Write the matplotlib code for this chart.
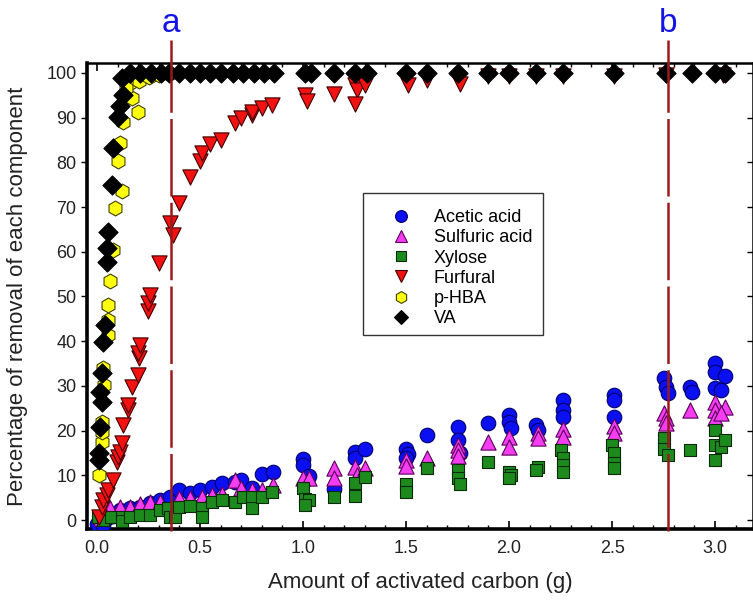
import matplotlib
matplotlib.use("Agg")
import matplotlib.pyplot as plt
from matplotlib.patches import Rectangle
from matplotlib.lines import Line2D

plt.rcParams['font.family'] = ['Liberation Sans', 'DejaVu Sans']

# ---- data: removal (%) vs. amount of activated carbon (g) ----
acetic_x = [0.00, 0.02, 0.03, 0.05, 0.08, 0.11, 0.16, 0.21, 0.257, 0.306, 0.354, 0.40, 0.45,
            0.50, 0.556, 0.605, 0.67, 0.70, 0.75, 0.80, 0.853, 1.00, 1.00, 1.03, 1.15, 1.25,
            1.25, 1.30, 1.50, 1.51, 1.50, 1.60, 1.75, 1.75, 1.76, 1.90, 2.00, 2.00, 2.01,
            2.13, 2.14, 2.26, 2.26, 2.26, 2.51, 2.51, 2.51, 2.75, 2.76, 2.77, 2.88, 2.89,
            3.00, 3.00, 3.05, 3.00, 3.03]
acetic_y = [-0.8, 0.0, -1.0, 0.5, 1.0, 2.2, 2.6, 3.0, 3.8, 4.5, 5.2, 6.7, 6.0,
            6.7, 7.5, 8.2, 8.6, 8.9, 7.1, 10.4, 10.8, 13.6, 12.3, 9.8, 6.9, 15.3,
            13.8, 15.8, 15.8, 14.8, 13.8, 19.0, 20.9, 17.9, 14.9, 21.8, 23.5, 22.0, 20.5,
            21.3, 20.1, 26.8, 24.6, 23.1, 28.0, 26.8, 23.1, 31.7, 29.8, 28.3, 29.8, 28.7,
            35.1, 33.2, 32.1, 29.5, 29.1]

sulfuric_x = [0.02, 0.04, 0.063, 0.11, 0.16, 0.21, 0.257, 0.306, 0.40, 0.45, 0.51, 0.556,
              0.605, 0.67, 0.70, 0.75, 0.80, 0.853, 1.00, 1.03, 1.15, 1.15, 1.25, 1.26,
              1.30, 1.50, 1.50, 1.60, 1.75, 1.75, 1.75, 1.90, 2.00, 2.00, 2.14, 2.14,
              2.26, 2.26, 2.51, 2.51, 2.75, 2.76, 2.76, 2.88, 3.00, 3.00, 3.05, 3.00, 3.03]
sulfuric_y = [0.5, 1.5, 2.6, 3.0, 3.0, 3.5, 4.1, 4.0, 4.9, 4.9, 5.2, 5.6,
              5.8, 8.9, 7.1, 6.7, 6.7, 7.8, 9.3, 9.3, 11.6, 9.3, 11.9, 10.1,
              11.6, 13.4, 12.1, 13.9, 16.8, 15.7, 14.3, 17.5, 18.5, 16.3, 19.4, 18.3,
              20.3, 18.6, 21.0, 19.4, 24.0, 22.8, 21.6, 24.5, 26.5, 24.6, 25.3, 22.8, 23.9]

xylose_x = [0.006, 0.03, 0.07, 0.12, 0.12, 0.16, 0.21, 0.257, 0.306, 0.346, 0.354, 0.38,
            0.40, 0.45, 0.51, 0.51, 0.556, 0.605, 0.67, 0.71, 0.75, 0.75, 0.80, 0.85,
            1.00, 1.01, 1.03, 1.01, 1.15, 1.25, 1.25, 1.30, 1.50, 1.50, 1.60, 1.75, 1.75,
            1.76, 1.90, 2.00, 2.01, 2.00, 2.14, 2.13, 2.25, 2.26, 2.26, 2.26, 2.50, 2.51,
            2.51, 2.51, 2.75, 2.75, 2.77, 2.88, 3.00, 3.00, 3.03, 3.05, 3.00]
xylose_y = [0.7, 0.0, 0.7, 0.7, -0.3, 0.7, 1.1, 1.1, 2.2, 2.6, 0.7, 0.7,
            3.0, 3.1, 2.6, 0.7, 4.1, 4.5, 4.1, 5.2, 5.2, 2.6, 5.2, 6.3,
            7.1, 4.8, 4.5, 3.4, 5.2, 8.2, 5.4, 9.6, 8.1, 6.3, 11.6, 11.3, 9.3,
            8.1, 13.0, 10.8, 10.1, 9.3, 11.9, 11.2, 15.7, 13.8, 12.3, 10.8, 16.8, 14.9,
            12.7, 11.6, 18.3, 16.0, 14.5, 15.7, 20.1, 16.8, 16.4, 17.9, 13.4]

furfural_x = [0.011, 0.023, 0.031, 0.047, 0.055, 0.076, 0.096, 0.103, 0.112, 0.12, 0.125,
              0.152, 0.152, 0.168, 0.20, 0.205, 0.20, 0.209, 0.249, 0.249, 0.257, 0.30,
              0.354, 0.37, 0.40, 0.45, 0.50, 0.51, 0.55, 0.60, 0.67, 0.70, 0.75, 0.75,
              0.80, 0.848, 1.01, 1.02, 1.15, 1.25, 1.26, 1.25, 1.30, 1.50, 1.51, 1.60,
              1.75, 1.76, 1.90, 2.00, 2.13, 2.26, 2.51, 2.76, 3.04]
furfural_y = [0.7, 3.0, 4.5, 5.6, 6.7, 8.9, 13.0, 14.2, 15.3, 17.3, 21.3,
              24.6, 25.7, 29.8, 32.4, 36.2, 37.3, 39.1, 46.8, 48.5, 50.3, 57.4,
              66.4, 63.8, 70.8, 76.8, 80.2, 82.0, 84.1, 85.0, 88.7, 89.8, 90.6, 91.3,
              92.1, 92.8, 95.1, 93.6, 95.3, 97.2, 96.1, 93.1, 97.3, 98.6, 97.3, 98.5,
              98.6, 97.5, 99.2, 99.3, 99.3, 99.4, 99.4, 99.5, 99.5]

phba_x = [0.011, 0.023, 0.023, 0.023, 0.031, 0.034, 0.055, 0.055, 0.055, 0.063, 0.08,
          0.087, 0.104, 0.112, 0.12, 0.128, 0.168, 0.20, 0.16, 0.14, 0.205, 0.25, 0.30, 0.35]
phba_y = [10.1, 17.5, 19.8, 22.0, 33.9, 30.2, 41.4, 44.7, 48.1, 53.5, 60.4,
          69.7, 80.2, 84.3, 73.6, 89.1, 94.3, 91.2, 97.7, 96.5, 98.1, 99.0, 99.5, 99.8]

va_x = [0.011, 0.011, 0.015, 0.015, 0.023, 0.023, 0.031, 0.039, 0.047, 0.047, 0.055,
        0.071, 0.08, 0.104, 0.11, 0.128, 0.12, 0.16, 0.21, 0.26, 0.31, 0.35, 0.40, 0.45,
        0.50, 0.55, 0.60, 0.66, 0.71, 0.76, 0.81, 0.86, 1.01, 1.04, 1.15, 1.25, 1.31,
        1.50, 1.60, 1.75, 1.90, 2.00, 2.13, 2.26, 2.51, 2.76, 2.89, 3.00, 3.05]
va_y = [15.0, 13.4, 20.9, 28.7, 26.5, 32.8, 39.9, 43.6, 57.8, 60.8, 64.5,
        74.9, 83.1, 90.2, 92.5, 95.1, 98.8, 99.9, 99.9, 99.9, 99.9, 99.9, 99.9, 99.9,
        99.9, 99.9, 99.9, 99.9, 99.9, 99.9, 99.9, 99.9, 99.9, 99.9, 99.9, 99.9, 99.9,
        99.9, 99.9, 99.9, 99.9, 99.9, 99.9, 99.9, 99.9, 99.9, 99.9, 99.9, 99.9]

series = [
    ("Acetic acid", acetic_x, acetic_y, 'o', '#0b10f2', '#00006a', 110, 8.5),
    ("Sulfuric acid", sulfuric_x, sulfuric_y, '^', '#f43cf0', '#5a005a', 120, 8.5),
    ("Xylose", xylose_x, xylose_y, 's', '#1d8a1d', '#0a2a0a', 85, 7.5),
    ("Furfural", furfural_x, furfural_y, 'v', '#f21212', '#400000', 120, 8.5),
    ("p-HBA", phba_x, phba_y, 'h', '#ffff10', '#404000', 115, 8.5),
    ("VA", va_x, va_y, 'D', '#000000', '#000000', 95, 7.0),
]

# the two highlighted doses
dose_a = 0.36
dose_b = 2.77

fig = plt.figure(figsize=(7.53, 6.06), dpi=100)
W, H = 753, 606
ax = fig.add_axes([87 / W, 1 - 529 / H, (753 - 87) / W, (529 - 63) / H])

handles = []
for name, xs, ys, mk, fc, ec, sz, lsz in series:
    ax.scatter(xs, ys, marker=mk, s=sz, facecolor=fc, edgecolor=ec, linewidths=0.8, zorder=3)
    handles.append(Line2D([], [], linestyle='none', marker=mk, markerfacecolor=fc,
                          markeredgecolor=ec, markeredgewidth=0.8, markersize=lsz, label=name))

ax.set_xlim(-0.0485, 3.184)
ax.set_ylim(-2.0, 102.2)
ax.set_xticks([0.0, 0.5, 1.0, 1.5, 2.0, 2.5, 3.0])
ax.set_xticklabels(['0.0', '0.5', '1.0', '1.5', '2.0', '2.5', '3.0'])
ax.set_xticks([i / 10 for i in range(0, 32)], minor=True)
ax.set_yticks(range(0, 101, 10))

ax.tick_params(axis='x', which='both', direction='in', top=True, bottom=True, labelsize=13,
               pad=8, labelcolor='#222222')
ax.tick_params(axis='x', which='major', length=6, width=1.2)
ax.tick_params(axis='x', which='minor', length=3, width=1.0)
ax.tick_params(axis='y', which='major', direction='out', length=4, width=1.0,
               labelsize=13, right=False, labelcolor='#222222')

sec = ax.secondary_yaxis('right')
sec.set_yticks(range(0, 101, 10))
sec.tick_params(direction='in', length=4, width=1.0, labelright=False)

for side, lw in (('left', 2.6), ('bottom', 2.6), ('top', 1.8)):
    ax.spines[side].set_linewidth(lw)
sec.spines['right'].set_linewidth(1.8)

ax.set_xlabel('Amount of activated carbon (g)', fontsize=16, labelpad=11, color='#222222')
ax.set_ylabel('Percentage of removal of each component', fontsize=16, labelpad=13,
              color='#222222')

# dashed guides at the two doses, running above the frame to the letters
trans = ax.get_xaxis_transform()
for xd, letter in ((dose_a, 'a'), (dose_b, 'b')):
    ax.plot([xd, xd], [-0.004, 1.049], transform=trans, color='#9a1a1a', lw=1.8,
            linestyle=(0, (31, 2.5)), clip_on=False, zorder=4)
    ax.text(xd, 1.066, letter, transform=trans, color='#1414e6', fontsize=24,
            ha='center', va='baseline')

# legend box
fig.patches.append(Rectangle((363 / W, 1 - 335 / H), 180 / W, 142 / H,
                             transform=fig.transFigure, facecolor='white',
                             edgecolor='#333333', linewidth=1.0, zorder=5))
leg = fig.legend(handles=handles, loc='upper left',
                 bbox_to_anchor=(368 / W, 1 - 200 / H), frameon=False, fontsize=13,
                 handlelength=2.6, handletextpad=0.55, labelspacing=0.18, borderpad=0.0)
leg.set_zorder(6)

fig.savefig('out.png', dpi=100)
